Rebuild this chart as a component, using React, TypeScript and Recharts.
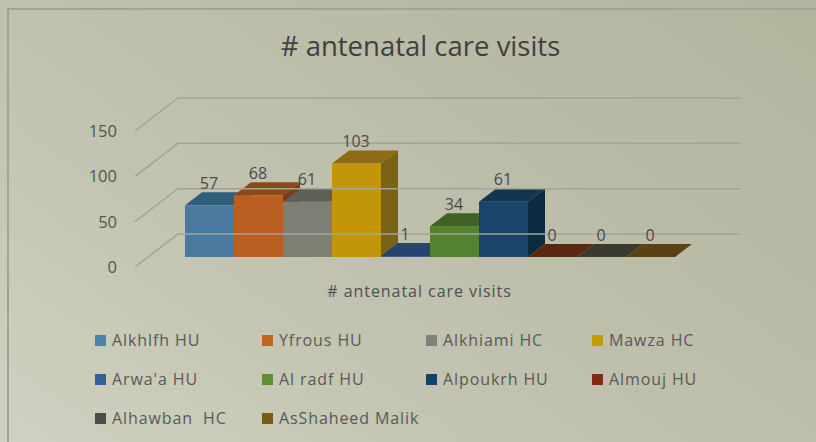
import React from "react";
import { BarChart, Bar, XAxis, YAxis, Legend, LabelList } from "recharts";

const categories = ["# antenatal care visits"];
const seriesNames = [
  "Alkhlfh HU", "Yfrous HU", "Alkhiami HC", "Mawza HC", "Arwa'a HU",
  "Al radf HU", "Alpoukrh HU", "Almouj HU", "Alhawban  HC", "AsShaheed Malik",
];
const seriesValues = [57, 68, 61, 103, 1, 34, 61, 0, 0, 0];
const yTicks = [0, 50, 100, 150];

const legendColors = ["#4a82ae", "#c4641f", "#808279", "#c49a07", "#33609a", "#5a9132", "#134268", "#7e2d0e", "#4d4d45", "#7b5a14"];
const frontColors = ["#4a7a9f", "#b95f22", "#7e7f74", "#c39509", "#2e5488", "#54822f", "#1a4468", "#7e2d0e", "#4d4d45", "#7b5a14"];
const topColors = ["#2f5f7c", "#8e4718", "#5e5f56", "#8e6c15", "#264472", "#3f6327", "#133650", "#5b2710", "#3a3a30", "#5a4214"];
const sideColors = ["#2a5270", "#7a3d14", "#53544c", "#7a6118", "#1f3a62", "#365522", "#0c2a40", "#4e210d", "#32322a", "#4d3911"];

const rows = categories.map((category) => {
  const row: Record<string, string | number> = { category };
  seriesNames.forEach((n, i) => { row[n] = seriesValues[i]; });
  return row;
});

const DX = 17;
const DY = 13;
const FONT = "'Open Sans', sans-serif";

const Box3D = (i: number) => (p: any) => {
  const { x, y, width, height } = p;
  const b = y + height;
  const r = x + width;
  return (
    <g>
      <polygon points={`${r},${y} ${r + DX},${y - DY} ${r + DX},${b - DY} ${r},${b}`} fill={sideColors[i]} />
      <polygon points={`${x},${y} ${x + DX},${y - DY} ${r + DX},${y - DY} ${r},${y}`} fill={topColors[i]} />
      <rect x={x} y={y} width={width} height={height} fill={frontColors[i]} />
    </g>
  );
};

const valueLabel = (p: any) => (
  <text x={p.x + p.width / 2 - 0.5} y={p.y - 22.5} textAnchor="middle" dominantBaseline="central"
    fontFamily={FONT} fontSize={16} fill="#4a4a4a">{p.value}</text>
);

const YTick = (p: any) => {
  const { y, payload } = p;
  const backY = y - 23;
  const frontY = y + 10;
  return (
    <g>
      <polyline points={`135,${frontY} 178,${backY} 741,${backY}`} fill="none" stroke="#a3a494" strokeWidth={1.5} />
      <text x={117} y={y + 9.5} textAnchor="end" dominantBaseline="central" fontFamily={FONT} fontSize={16.5} fill="#555555">
        {payload.value}
      </text>
    </g>
  );
};

const XTick = (p: any) => (
  <text x={p.x - 10.5} y={291} textAnchor="middle" dominantBaseline="central" fontFamily={FONT} fontSize={16} letterSpacing={0.95} fill="#4f4f4f">
    {p.payload.value}
  </text>
);

const legendCols = [95, 262, 426, 592];
const legendRows = [340, 379, 418];

const LegendContent = (props: any) => (
  <div style={{ position: "relative", width: 816, height: 0 }}>
    {(props.payload || []).map((e: any, i: number) => {
      const left = legendCols[i % 4];
      const top = legendRows[Math.floor(i / 4)];
      return (
        <div key={e.value} style={{ position: "absolute", left, top: top - 10, height: 20, whiteSpace: "pre", display: "flex", alignItems: "center" }}>
          <span style={{ width: 11, height: 11, background: legendColors[i], display: "inline-block", marginRight: 6 }} />
          <span style={{ fontFamily: FONT, fontSize: 16, color: "#595959", letterSpacing: 0.9 }}>{e.value}</span>
        </div>
      );
    })}
  </div>
);

export default function App() {
  return (
    <div style={{
      position: "absolute", left: 0, top: 0, width: 816, height: 442, overflow: "hidden",
      background: "linear-gradient(35deg, #d0d1c0 0%, #c2c3b0 35%, #bbbca8 65%, #b2b49e 100%)",
    }}>
      <div style={{ position: "absolute", left: 7, top: 8, right: -4, bottom: -4, borderLeft: "2px solid #a2a494", borderTop: "2px solid #a2a494" }} />
      <div style={{ position: "absolute", left: 0, width: 841, top: 27, textAlign: "center", fontFamily: FONT, fontSize: 27.5, lineHeight: "38px", color: "#404040" }}>
        # antenatal care visits
      </div>
      <div style={{ position: "absolute", left: 0, top: 0 }}>
        <BarChart width={816} height={442} data={rows} barSize={49} barGap={0}
          margin={{ top: 121, right: 91, bottom: 155, left: 75 }}>
          <YAxis width={60} domain={[0, 150]} ticks={yTicks} axisLine={false} tickLine={false} tick={YTick} interval={0} />
          <XAxis dataKey="category" height={30} axisLine={false} tickLine={false} tick={XTick} />
          <Legend verticalAlign="middle" itemSorter={null} content={LegendContent} wrapperStyle={{ position: "absolute", left: 0, top: 0, width: 816, height: 0 }} />
          {seriesNames.map((n, i) => (
            <Bar key={n} dataKey={n} name={n} fill={legendColors[i]} shape={Box3D(i)} isAnimationActive={false}>
              <LabelList dataKey={n} content={valueLabel} />
            </Bar>
          ))}
        </BarChart>
      </div>
    </div>
  );
}
